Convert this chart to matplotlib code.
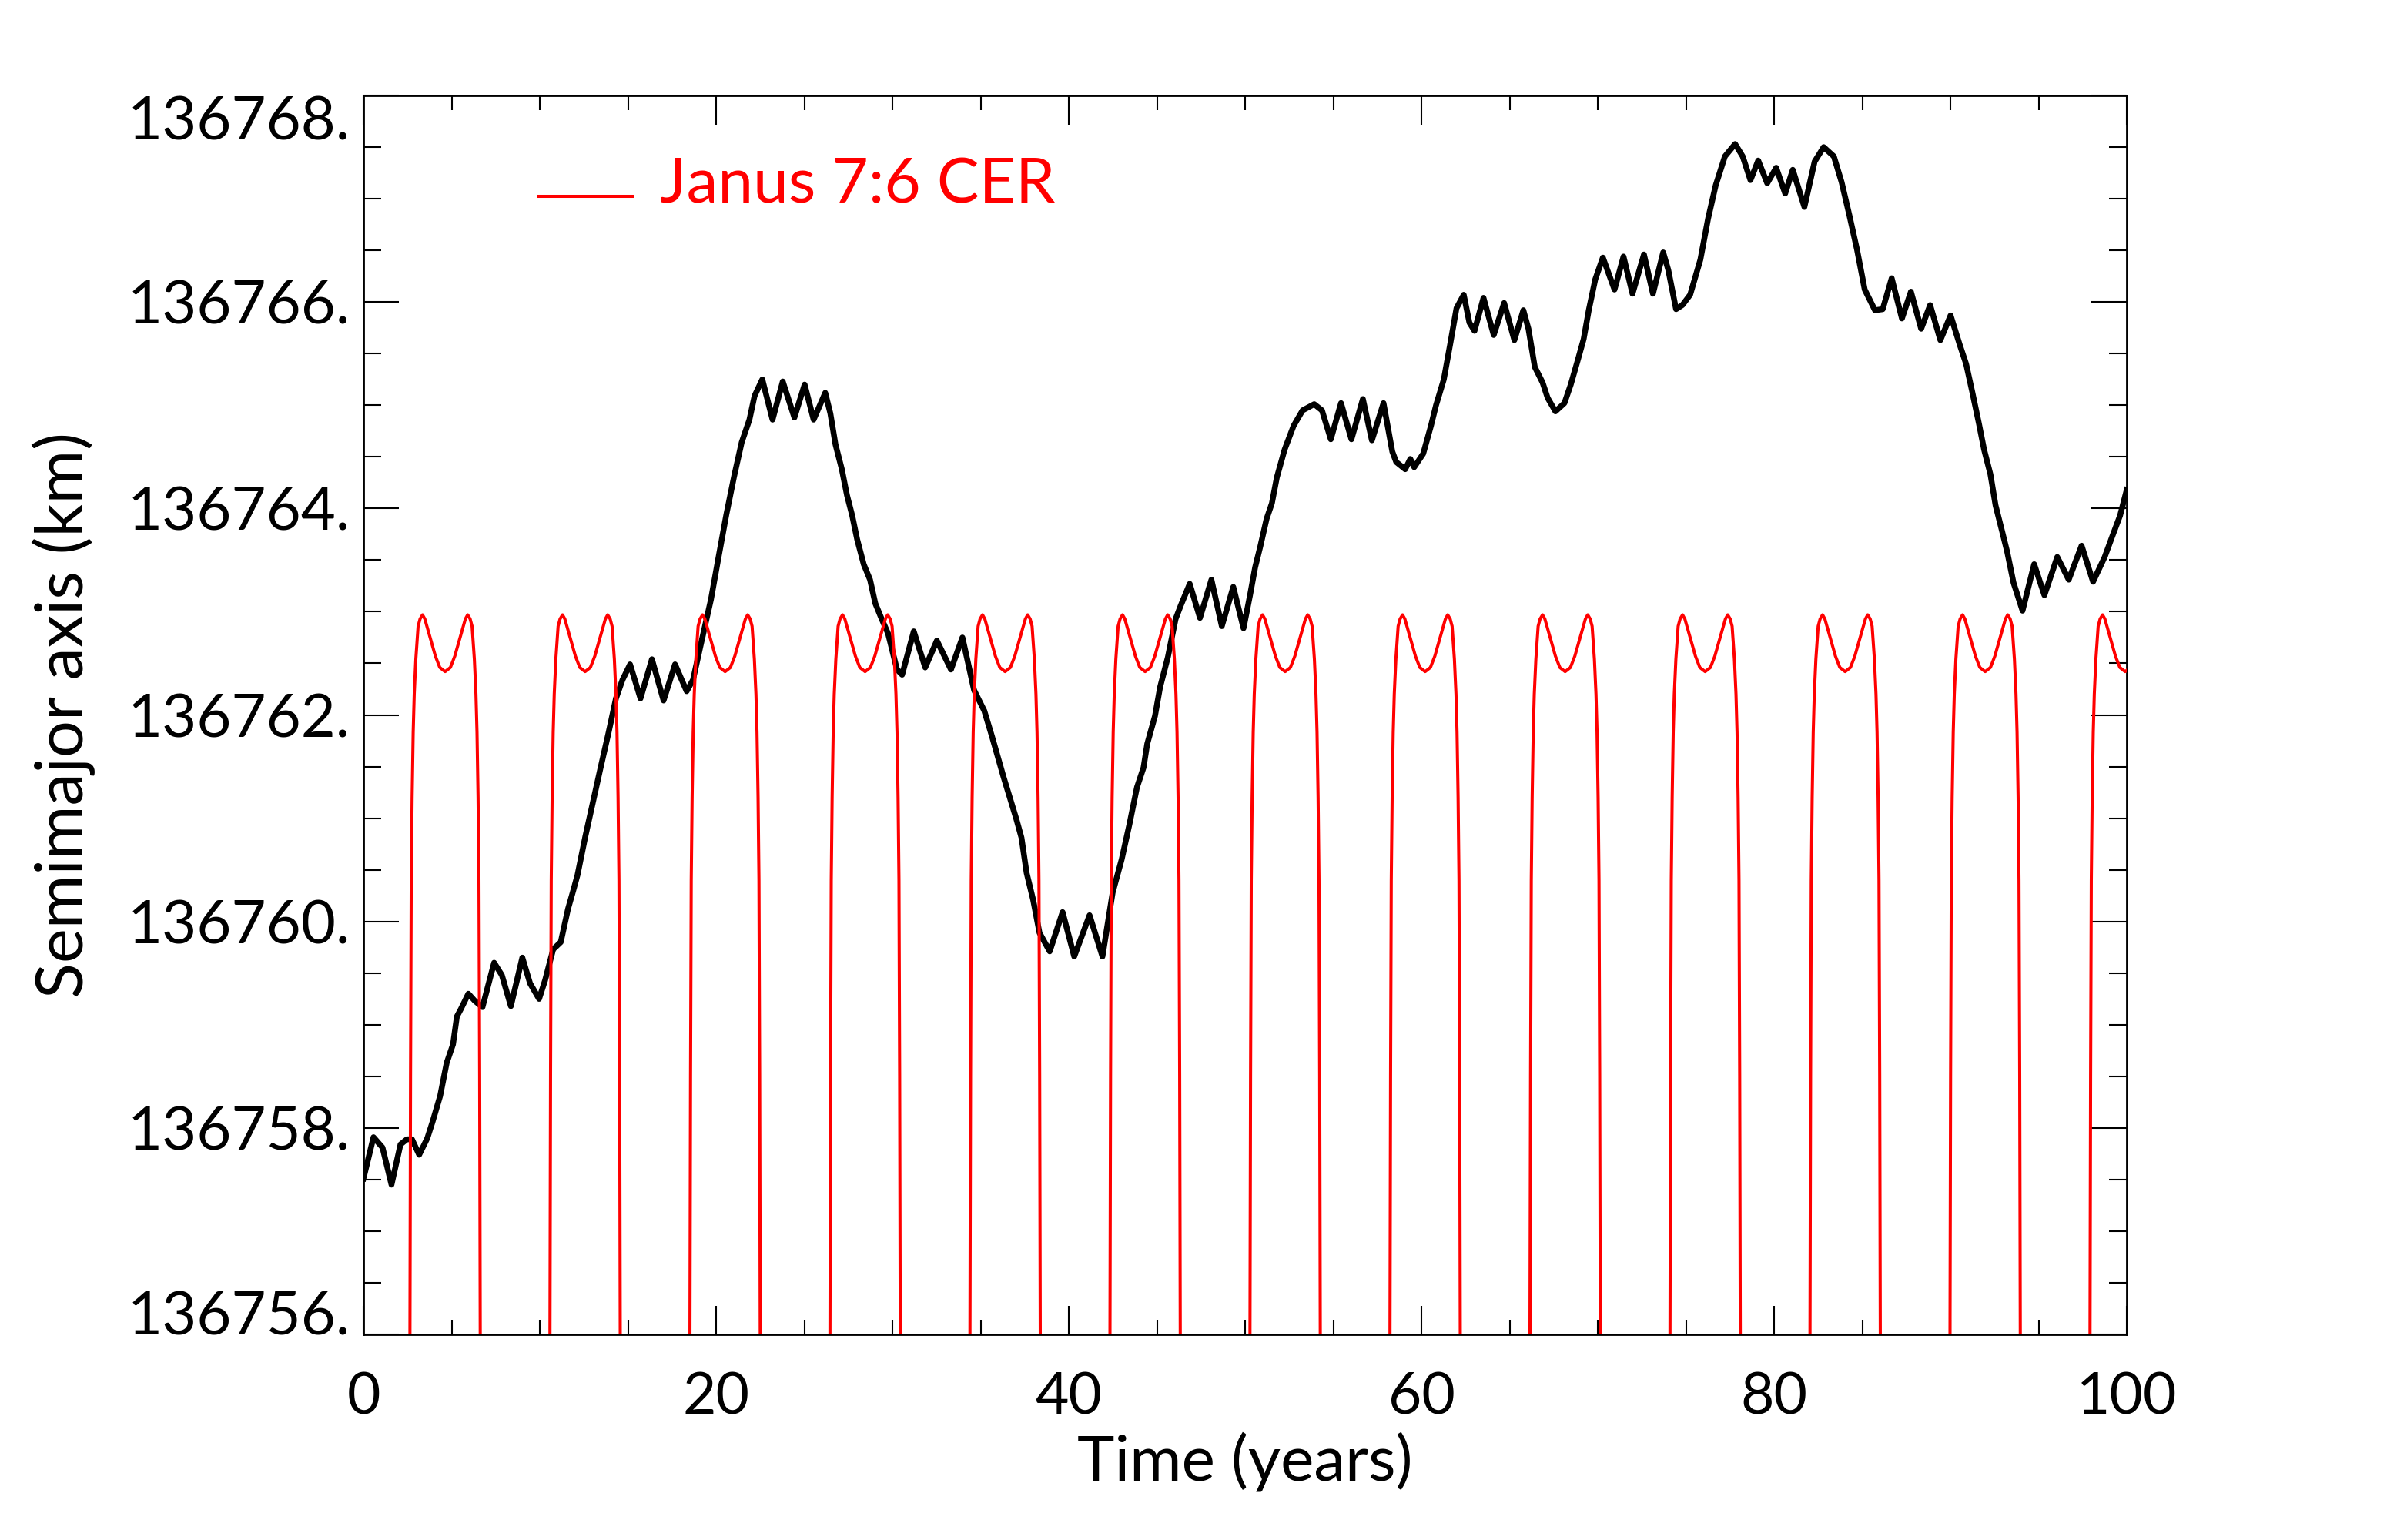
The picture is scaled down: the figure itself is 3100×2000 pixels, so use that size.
import numpy as np
import matplotlib
matplotlib.use("Agg")
from matplotlib import pyplot as plt
from matplotlib.ticker import MultipleLocator, FixedLocator, FuncFormatter

# semimajor axis of the ring particle (black curve)
time_years = [
    0.00, 0.57, 1.08, 1.59, 2.10, 2.46, 2.75, 3.16, 3.62, 3.92, 4.35, 4.72, 5.08, 5.30,
    5.52, 5.95, 6.32, 6.75, 7.41, 7.85, 8.36, 9.01, 9.45, 9.96, 10.30, 10.76, 11.19,
    11.60, 11.90, 12.14, 12.58, 13.01, 13.45, 13.89, 14.32, 14.69, 15.12, 15.71, 16.36,
    17.02, 17.67, 18.33, 18.69, 19.13, 19.71, 20.14, 20.58, 21.02, 21.45, 21.89, 22.18,
    22.62, 23.20, 23.78, 24.44, 25.02, 25.53, 26.19, 26.48, 26.77, 27.13, 27.42, 27.72,
    28.00, 28.37, 28.73, 29.03, 29.39, 29.75, 30.04, 30.26, 30.55, 31.21, 31.86, 32.52,
    33.32, 33.97, 34.63, 35.21, 35.65, 36.30, 37.03, 37.32, 37.61, 37.98, 38.34, 38.92,
    39.65, 40.31, 41.18, 41.91, 42.49, 43.00, 43.44, 43.87, 44.24, 44.45, 44.89, 45.18,
    45.62, 46.06, 46.35, 46.86, 47.44, 48.09, 48.68, 49.33, 49.91, 50.28, 50.57, 50.86,
    51.22, 51.52, 51.80, 52.24, 52.75, 53.26, 53.92, 54.36, 54.86, 55.44, 56.03, 56.68,
    57.19, 57.85, 58.35, 58.57, 59.08, 59.37, 59.59, 60.10, 60.54, 60.83, 61.27, 61.63,
    61.99, 62.40, 62.72, 63.01, 63.52, 64.10, 64.69, 65.27, 65.78, 66.07, 66.43, 66.87,
    67.16, 67.60, 68.11, 68.47, 68.84, 69.20, 69.49, 69.86, 70.29, 70.95, 71.46, 71.97,
    72.62, 73.13, 73.71, 74.00, 74.44, 74.80, 75.24, 75.82, 76.26, 76.69, 77.21, 77.79,
    78.22, 78.66, 79.10, 79.61, 80.12, 80.63, 81.06, 81.72, 82.30, 82.81, 83.39, 83.83,
    84.27, 84.70, 85.14, 85.72, 86.16, 86.67, 87.25, 87.76, 88.34, 88.85, 89.43, 90.01,
    90.52, 90.89, 91.25, 91.62, 91.91, 92.27, 92.56, 92.93, 93.22, 93.58, 94.09, 94.75,
    95.33, 96.06, 96.71, 97.44, 98.09, 98.75, 99.18, 99.62, 100.00]
semimajor_km = [
    136757.51, 136757.91, 136757.81, 136757.45, 136757.84, 136757.89, 136757.89,
    136757.74, 136757.90, 136758.06, 136758.31, 136758.63, 136758.81, 136759.08,
    136759.15, 136759.30, 136759.23, 136759.17, 136759.60, 136759.48, 136759.18,
    136759.65, 136759.40, 136759.25, 136759.43, 136759.73, 136759.80, 136760.12,
    136760.30, 136760.45, 136760.82, 136761.15, 136761.49, 136761.82, 136762.16,
    136762.34, 136762.49, 136762.16, 136762.54, 136762.14, 136762.49, 136762.23,
    136762.34, 136762.68, 136763.12, 136763.53, 136763.94, 136764.31, 136764.64,
    136764.86, 136765.09, 136765.25, 136764.86, 136765.23, 136764.88, 136765.20,
    136764.86, 136765.12, 136764.92, 136764.62, 136764.38, 136764.13, 136763.93,
    136763.70, 136763.46, 136763.31, 136763.08, 136762.93, 136762.79, 136762.59,
    136762.44, 136762.39, 136762.81, 136762.46, 136762.72, 136762.44, 136762.75,
    136762.24, 136762.04, 136761.79, 136761.40, 136760.99, 136760.81, 136760.47,
    136760.21, 136759.89, 136759.71, 136760.09, 136759.66, 136760.06, 136759.66,
    136760.28, 136760.60, 136760.94, 136761.30, 136761.49, 136761.72, 136761.99,
    136762.27, 136762.56, 136762.93, 136763.06, 136763.27, 136762.94, 136763.31,
    136762.86, 136763.24, 136762.84, 136763.16, 136763.43, 136763.63, 136763.90,
    136764.05, 136764.30, 136764.57, 136764.80, 136764.95, 136765.01, 136764.95,
    136764.67, 136765.02, 136764.67, 136765.06, 136764.66, 136765.02, 136764.55,
    136764.45, 136764.38, 136764.48, 136764.40, 136764.53, 136764.80, 136765.00,
    136765.25, 136765.59, 136765.94, 136766.07, 136765.80, 136765.72, 136766.04,
    136765.68, 136765.99, 136765.63, 136765.92, 136765.74, 136765.37, 136765.22,
    136765.07, 136764.94, 136765.02, 136765.20, 136765.42, 136765.64, 136765.92,
    136766.22, 136766.43, 136766.12, 136766.44, 136766.08, 136766.46, 136766.08,
    136766.48, 136766.31, 136765.93, 136765.97, 136766.07, 136766.41, 136766.81,
    136767.13, 136767.41, 136767.53, 136767.41, 136767.18, 136767.37, 136767.15,
    136767.30, 136767.05, 136767.28, 136766.92, 136767.36, 136767.50, 136767.41,
    136767.16, 136766.84, 136766.51, 136766.12, 136765.92, 136765.93, 136766.23,
    136765.84, 136766.10, 136765.74, 136765.97, 136765.63, 136765.87, 136765.59,
    136765.40, 136765.12, 136764.82, 136764.57, 136764.33, 136764.03, 136763.78,
    136763.58, 136763.28, 136763.01, 136763.46, 136763.16, 136763.53, 136763.31,
    136763.64, 136763.29, 136763.53, 136763.73, 136763.93, 136764.18]

# Janus 7:6 CER (red curve): centre time of each libration window and
# one half of the window profile (offset from centre, value)
cer_centers = [4.63, 12.57, 20.51, 28.45, 36.39, 44.33, 52.27, 60.21,
               68.15, 76.09, 84.03, 91.97, 99.91]
cer_offsets = [0.0, 0.3, 0.55, 0.8, 1.0, 1.15, 1.28, 1.42, 1.53, 1.66,
               1.75, 1.81, 1.87, 1.92, 1.96, 2.0]
cer_profile = [136762.42, 136762.46, 136762.57, 136762.72, 136762.84, 136762.93,
               136762.97, 136762.93, 136762.86, 136762.54, 136762.20, 136761.83,
               136761.20, 136760.40, 136758.50, 136755.50]

y_ticks = [136756, 136758, 136760, 136762, 136764, 136766, 136768]
x_ticks = [0, 20, 40, 60, 80, 100]

plt.rcParams['font.family'] = ['Lato', 'DejaVu Sans']

fig = plt.figure(figsize=(31, 20), dpi=100)
ax = fig.add_axes([0.15226, 0.1335, 0.73871, 0.8045])

half_t = np.array(cer_offsets)
half_a = np.array(cer_profile)
red_t, red_a = [], []
for c in cer_centers:
    red_t += list(c - half_t[::-1]) + list(c + half_t[1:])
    red_a += list(half_a[::-1]) + list(half_a[1:])

ax.plot(time_years, semimajor_km, color='black', lw=5.4, zorder=2,
        solid_joinstyle='round')
ax.plot(red_t, red_a, color='red', lw=2.9, zorder=3)

ax.set_xlim(0, 100)
ax.set_ylim(136756, 136768)
ax.xaxis.set_major_locator(FixedLocator(x_ticks))
ax.xaxis.set_minor_locator(MultipleLocator(5))
ax.yaxis.set_major_locator(FixedLocator(y_ticks))
ax.yaxis.set_minor_locator(MultipleLocator(0.5))
ax.yaxis.set_major_formatter(FuncFormatter(lambda v, p: '%d.' % round(v)))
ax.xaxis.set_major_formatter(FuncFormatter(lambda v, p: '%d' % round(v)))

for s in ax.spines.values():
    s.set_linewidth(2)
ax.tick_params(which='both', direction='in', top=True, right=True, width=1.5)
ax.tick_params(axis='x', which='major', length=27, pad=34, labelsize=54)
ax.tick_params(axis='x', which='minor', length=13.7)
ax.tick_params(axis='y', which='major', length=33, pad=12, labelsize=56)
ax.tick_params(axis='y', which='minor', length=16.5)

# IDL keeps the end labels inside the axis height
yt = ax.yaxis.get_major_ticks()
yt[0].label1.set_va('baseline')
yt[-1].label1.set_va('top')

ax.set_xlabel('Time (years)', fontsize=59)
ax.xaxis.set_label_coords(0.5, -0.1025)
ax.xaxis.label.set_va('center')
ax.set_ylabel('Semimajor axis (km)', fontsize=61)
ax.yaxis.set_label_coords(-0.1699, 0.5)
ax.yaxis.label.set_va('center')

# legend entry drawn by hand, IDL style
ax.plot([0.0996, 0.1524], [0.9186, 0.9186], transform=ax.transAxes, color='red', lw=2.9)
ax.text(0.168, 0.9136, 'Janus 7:6 CER', transform=ax.transAxes, color='red',
        fontsize=59, va='baseline')

fig.savefig('out.png', dpi=100)
